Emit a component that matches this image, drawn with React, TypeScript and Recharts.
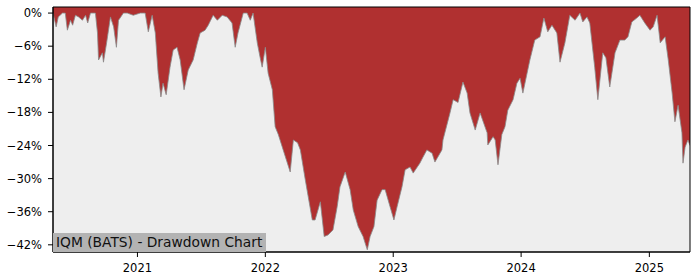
import {
  AreaChart,
  Area,
  XAxis,
  YAxis,
  CartesianGrid,
  ReferenceArea,
} from "recharts";

const dates = [
  "2020-05-05", "2020-05-14", "2020-05-20", "2020-06-01", "2020-06-09", "2020-06-15",
  "2020-06-24", "2020-06-30", "2020-07-08", "2020-07-17", "2020-07-28", "2020-08-06",
  "2020-08-12", "2020-08-20", "2020-09-03", "2020-09-09", "2020-09-12", "2020-09-23",
  "2020-09-26", "2020-10-05", "2020-10-16", "2020-10-25", "2020-11-02", "2020-11-08",
  "2020-11-22", "2020-12-03", "2020-12-20", "2021-01-09", "2021-01-23", "2021-02-01",
  "2021-02-12", "2021-02-21", "2021-03-01", "2021-03-09", "2021-03-15", "2021-03-24",
  "2021-04-04", "2021-04-13", "2021-04-24", "2021-05-03", "2021-05-14", "2021-05-26",
  "2021-06-09", "2021-06-21", "2021-06-29", "2021-07-13", "2021-07-22", "2021-08-05",
  "2021-08-17", "2021-08-31", "2021-09-14", "2021-09-28", "2021-10-07", "2021-10-15",
  "2021-10-30", "2021-11-10", "2021-11-19", "2021-11-27", "2021-12-09", "2021-12-17",
  "2021-12-23", "2022-01-01", "2022-01-09", "2022-01-21", "2022-01-29", "2022-02-07",
  "2022-02-21", "2022-03-13", "2022-03-22", "2022-04-03", "2022-04-11", "2022-04-25",
  "2022-05-15", "2022-05-23", "2022-06-07", "2022-06-18", "2022-06-29", "2022-07-13",
  "2022-07-25", "2022-08-02", "2022-08-17", "2022-08-31", "2022-09-09", "2022-09-23",
  "2022-10-07", "2022-10-19", "2022-10-27", "2022-11-07", "2022-11-16", "2022-11-30",
  "2022-12-09", "2022-12-23", "2023-01-03", "2023-01-12", "2023-01-26", "2023-02-04",
  "2023-02-18", "2023-02-27", "2023-03-18", "2023-03-27", "2023-04-07", "2023-04-22",
  "2023-04-30", "2023-05-20", "2023-05-23", "2023-06-12", "2023-06-21", "2023-07-05",
  "2023-07-19", "2023-07-31", "2023-08-08", "2023-08-23", "2023-09-06", "2023-09-26",
  "2023-09-28", "2023-10-13", "2023-10-19", "2023-10-27", "2023-11-07", "2023-11-16",
  "2023-11-24", "2023-12-09", "2023-12-20", "2023-12-29", "2024-01-06", "2024-01-26",
  "2024-02-09", "2024-02-24", "2024-03-06", "2024-03-17", "2024-03-29", "2024-04-12",
  "2024-04-21", "2024-05-05", "2024-05-19", "2024-06-03", "2024-06-17", "2024-06-25",
  "2024-07-07", "2024-07-15", "2024-07-29", "2024-08-07", "2024-08-21", "2024-08-30",
  "2024-09-10", "2024-09-25", "2024-10-09", "2024-10-23", "2024-11-01", "2024-11-12",
  "2024-11-26", "2024-12-05", "2024-12-19", "2025-01-03", "2025-01-12", "2025-01-23",
  "2025-02-01", "2025-02-15", "2025-02-24", "2025-03-07", "2025-03-15", "2025-03-24",
  "2025-04-04", "2025-04-07", "2025-04-13", "2025-04-21", "2025-04-27",
];

const drawdown = [
  0, -2.5, -0.7, 0, 0, -3.1,
  -1.3, -2.2, -0.4, -0.7, -1.3, -0.4,
  -1.8, 0, 0, -3.6, -8.5, -7.2,
  -8.9, -5.4, -0.7, -2.5, -6.2, -1.3,
  0, 0, -0.4, 0, 0, -3.4,
  -0.4, -3.6, -10.9, -15.2, -12.7, -14.8,
  -9.8, -6.7, -6.2, -8.5, -13.9, -10.3,
  -8.5, -5.4, -3.6, -3.1, -2.2, -0.4,
  -1.3, -0.4, -0.7, -1.8, -6.2, -3.6,
  0, 0, -1.3, 0, -5.4, -8.0,
  -9.8, -6.2, -10.9, -13.9, -20.6, -22.0,
  -24.8, -28.8, -23.0, -23.5, -24.8, -30.2,
  -37.5, -37.5, -34.2, -40.5, -40.2, -39.3,
  -35.1, -31.5, -28.8, -32.0, -35.7, -38.7,
  -40.5, -42.9, -40.5, -38.7, -33.9, -32.0,
  -32.0, -35.1, -37.5, -35.1, -31.5, -28.4,
  -27.9, -29.0, -27.2, -26.1, -24.8, -25.4,
  -27.0, -24.8, -23.0, -18.1, -15.7, -16.2,
  -12.5, -14.5, -18.1, -21.2, -18.1, -21.7,
  -23.9, -22.4, -23.0, -27.5, -22.0, -20.6,
  -17.6, -15.7, -12.7, -11.8, -14.5, -8.5,
  -4.9, -4.3, -0.9, -3.4, -2.2, -3.6,
  -8.9, -5.4, -0.4, -1.3, 0, -1.6,
  -0.7, -1.8, -9.8, -15.7, -7.2, -8.1,
  -13.4, -7.2, -4.9, -4.9, -4.3, -1.6,
  -0.9, -0.4, -1.8, -3.1, -2.5, -0.4,
  -5.4, -4.3, -8.5, -14.5, -19.7, -16.7,
  -21.7, -27.2, -24.3, -23.0, -24.0,
];

const yearTicks = [2021, 2022, 2023, 2024, 2025];
const pctTicks = [0, -6, -12, -18, -24, -30, -36, -42];

const data = dates.map((d, i) => ({ t: Date.parse(d), dd: drawdown[i] }));

const X_MIN = Date.parse("2020-05-05");
const X_MAX = Date.parse("2025-04-27");
const Y_MIN = -43.3;
const Y_MAX = 1.1;

const tickStyle = { fontSize: 11.5, fill: "#000", fontFamily: "DejaVu Sans" };

export default function App() {
  return (
    <div style={{ position: "absolute", left: 0, top: 0, width: 700, height: 280, background: "#fff" }}>
      <AreaChart
        width={700}
        height={280}
        data={data}
        margin={{ top: 7, right: 10, bottom: 0, left: 0 }}
      >
        <CartesianGrid horizontal={false} vertical={false} fill="#eeeeee" />
        <XAxis
          dataKey="t"
          type="number"
          domain={[X_MIN, X_MAX]}
          allowDataOverflow
          ticks={yearTicks.map((y) => Date.UTC(y, 0, 1))}
          tickFormatter={(v) => String(new Date(v).getUTCFullYear())}
          height={28}
          tickSize={5}
          tickMargin={7}
          stroke="#000"
          tick={tickStyle}
        />
        <YAxis
          type="number"
          domain={[Y_MIN, Y_MAX]}
          allowDataOverflow
          ticks={pctTicks}
          tickFormatter={(v) => (v === 0 ? "0%" : `\u2212${Math.abs(v)}%`)}
          width={53}
          tickSize={5}
          tickMargin={6}
          stroke="#000"
          tick={tickStyle}
        />
        <Area
          type="linear"
          dataKey="dd"
          baseValue={Y_MAX}
          fill="#b03030"
          fillOpacity={1}
          stroke="#8a8a8a"
          strokeWidth={1}
          strokeOpacity={0.8}
          isAnimationActive={false}
        />
        <ReferenceArea
          x1={X_MIN}
          x2={X_MAX}
          y1={Y_MIN}
          y2={Y_MAX}
          fill="none"
          stroke="#000"
          strokeWidth={1}
        />
      </AreaChart>
      <div
        style={{
          position: "absolute",
          left: 53,
          top: 233,
          width: 213,
          height: 19,
          background: "#b3b3b3",
          fontFamily: "DejaVu Sans",
          fontSize: 13.8,
          lineHeight: "19px",
          color: "#111",
          paddingLeft: 3,
          boxSizing: "border-box",
          whiteSpace: "nowrap",
        }}
      >
        IQM (BATS) - Drawdown Chart
      </div>
    </div>
  );
}
